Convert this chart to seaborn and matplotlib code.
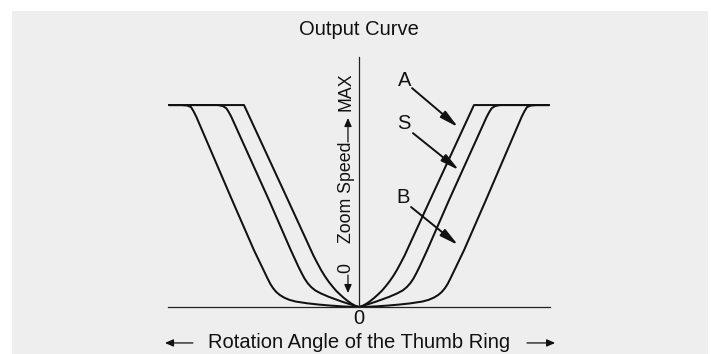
import pandas as pd
import seaborn as sns
import matplotlib.pyplot as plt
from matplotlib.patches import Rectangle

# Right half of each curve (the chart is mirrored about angle 0)
# angle in % of the half range, speed in % of MAX
a_angle = [0, 2, 4, 6, 8, 10, 12, 14, 16, 18, 20, 22, 24, 25.3, 37.4, 60.5, 100]
a_speed = [0, 0.6, 1.7, 3.0, 4.5, 6.2, 8.0, 10.2, 12.6, 15.3, 18.4, 21.9, 25.5, 28.2, 53.0, 100, 100]

s_angle = [0, 3.5, 8.8, 15.8, 20, 23, 25.2, 27, 28.6, 30.2, 32, 35.9, 47.4, 67.2, 68.7, 69.8, 71.6, 74.2, 100]
s_speed = [0, 1.0, 2.6, 5.0, 6.7, 8.2, 9.9, 11.8, 14.0, 16.8, 20.2, 28.2, 53.0, 94.2, 96.8, 98.4, 99.5, 100, 100]

b_angle = [0, 4.2, 8.8, 15, 21.1, 27, 33.3, 36.5, 39.3, 41.6, 43.5, 45.2, 46.7, 48.2, 55.3, 66.8,
           85.6, 87.1, 88.4, 90.5, 93.5, 100]
b_speed = [0, 0.1, 0.3, 0.7, 1.2, 1.8, 2.7, 3.5, 4.6, 5.9, 7.4, 9.3, 11.5, 14.3, 28.2, 53.0,
           94.2, 97.0, 99.0, 99.8, 100, 100]

curve_names = ['A', 'S', 'B']
title = 'Output Curve'
x_label = 'Rotation Angle of the Thumb Ring'
y_label = 'Zoom Speed'

sns.set_theme(style='white')
plt.rcParams['font.family'] = ['Liberation Sans', 'DejaVu Sans']

# Build full curves by mirroring the right halves
frames = []
for name, xs, ys in zip(curve_names, [a_angle, s_angle, b_angle], [a_speed, s_speed, b_speed]):
    full_x = [-v for v in xs[::-1]] + xs[1:]
    full_y = ys[::-1] + ys[1:]
    frames.append(pd.DataFrame({'angle': full_x, 'speed': full_y, 'curve': name}))
df = pd.concat(frames, ignore_index=True)

fig = plt.figure(figsize=(7.11, 3.54), dpi=100, facecolor='white')
fig.patches.append(Rectangle((12 / 711, 0), 696 / 711, 343 / 354, transform=fig.transFigure,
                             facecolor='#eeeeee', edgecolor='none', zorder=-1))
ax = fig.add_axes([168 / 711, 47 / 354, 382 / 711, 250 / 354])
ax.set_facecolor('none')

sns.lineplot(data=df, x='angle', y='speed', hue='curve', estimator=None, sort=False,
             palette={n: '#111111' for n in curve_names}, legend=False, linewidth=1.45, ax=ax)

ax.set_xlim(-100.5, 100.5)
ax.set_ylim(0, 123.8)
ax.set_xticks([])
ax.set_yticks([])
ax.set_xlabel('')
ax.set_ylabel('')
ax.spines['top'].set_visible(False)
ax.spines['right'].set_visible(False)
ax.spines['left'].set_position(('data', 0))
for s in ['left', 'bottom']:
    ax.spines[s].set_color('#222222')
    ax.spines[s].set_linewidth(0.9)

txt = dict(ha='center', va='center', color='#111111')
ax.text(0, 137.6, title, fontsize=14.5, **txt)
ax.text(0, -5.9, '0', fontsize=14.5, **txt)
ax.text(0, -17.8, x_label, fontsize=14.5, **txt)
ax.text(-6.8, 56.7, y_label, fontsize=12.8, rotation=90, **txt)
ax.text(-6.8, 106.7, 'MAX', fontsize=12.8, rotation=90, **txt)
ax.text(-6.8, 19.3, '0', fontsize=12.8, rotation=90, **txt)


def arrow(x0, y0, x1, y1, lw, hl, hw):
    ax.annotate('', xy=(x1, y1), xytext=(x0, y0), annotation_clip=False,
                arrowprops=dict(arrowstyle=f'-|>,head_length={hl},head_width={hw}',
                                color='#111111', lw=lw, shrinkA=0, shrinkB=0,
                                mutation_scale=10))


# curve labels with pointers
label_pos = {'A': (24.2, 112.4), 'S': (23.7, 91.1), 'B': (23.2, 54.0)}
pointer = {'A': (27.9, 108.4, 52.1, 89.1), 'S': (28.4, 86.1, 52.6, 67.8), 'B': (27.4, 49.5, 52.1, 30.7)}
for n in curve_names:
    ax.text(*label_pos[n], n, fontsize=14.5, **txt)
    arrow(*pointer[n], lw=1.4, hl=1.1, hw=0.25)

# small axis arrows
arrow(-87.4, -17.8, -102.1, -17.8, lw=0.9, hl=0.5, hw=0.22)
arrow(88.4, -17.8, 103.2, -17.8, lw=0.9, hl=0.5, hw=0.22)
arrow(-5.8, 81.7, -5.8, 93.6, lw=0.9, hl=0.5, hw=0.22)
arrow(-5.8, 15.8, -5.8, 6.9, lw=0.9, hl=0.5, hw=0.22)

fig.savefig('out.png', dpi=100)
